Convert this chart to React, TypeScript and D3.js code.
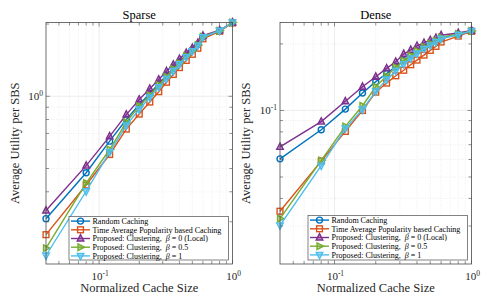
import React from "react";
import * as d3 from "d3";

const cacheSizes = [0.04, 0.08, 0.12, 0.16, 0.2, 0.24, 0.28, 0.32, 0.36, 0.4, 0.45, 0.5, 0.55, 0.6, 0.8, 1.0];

const seriesNames = [
  "Random Caching",
  "Time Average Popularity based Caching",
  "Proposed: Clustering,  β = 0 (Local)",
  "Proposed: Clustering,  β = 0.5",
  "Proposed: Clustering,  β = 1",
];

const sparseRandom = [0.309, 0.48, 0.65, 0.8, 0.925, 1.027, 1.127, 1.22, 1.307, 1.389, 1.479, 1.559, 1.644, 1.772, 1.875, 2.03];
const sparseTimeAvg = [0.265, 0.427, 0.572, 0.73, 0.843, 0.946, 1.045, 1.144, 1.233, 1.317, 1.411, 1.496, 1.586, 1.736, 1.866, 2.02];
const sparseBeta0 = [0.334, 0.514, 0.681, 0.839, 0.969, 1.074, 1.174, 1.271, 1.355, 1.432, 1.517, 1.591, 1.669, 1.79, 1.884, 2.03];
const sparseBeta05 = [0.233, 0.435, 0.6, 0.78, 0.91, 1.01, 1.115, 1.207, 1.3, 1.375, 1.472, 1.543, 1.636, 1.772, 1.875, 2.03];
const sparseBeta1 = [0.217, 0.402, 0.585, 0.756, 0.883, 0.988, 1.092, 1.182, 1.274, 1.36, 1.456, 1.543, 1.627, 1.763, 1.875, 2.03];

const denseRandom = [0.0604, 0.0818, 0.1014, 0.12, 0.135, 0.147, 0.158, 0.168, 0.177, 0.186, 0.193, 0.2, 0.206, 0.213, 0.221, 0.229];
const denseTimeAvg = [0.035, 0.059, 0.0804, 0.1, 0.121, 0.133, 0.1435, 0.152, 0.161, 0.169, 0.178, 0.187, 0.195, 0.204, 0.217, 0.228];
const denseBeta0 = [0.0684, 0.089, 0.11, 0.128, 0.142, 0.155, 0.166, 0.18, 0.188, 0.196, 0.202, 0.208, 0.213, 0.219, 0.224, 0.23];
const denseBeta05 = [0.0324, 0.0594, 0.0847, 0.105, 0.128, 0.143, 0.157, 0.168, 0.177, 0.186, 0.194, 0.201, 0.207, 0.214, 0.222, 0.229];
const denseBeta1 = [0.0302, 0.0563, 0.083, 0.101, 0.122, 0.138, 0.151, 0.162, 0.172, 0.181, 0.19, 0.197, 0.204, 0.211, 0.22, 0.229];

const colors = ["#0072BD", "#D95319", "#7E2F8E", "#77AC30", "#4DBEEE"];
const markers = ["circle", "square", "up", "right", "down"];

const FONT = "Liberation Serif";

function Marker({ type, x, y, color }: { type: string; x: number; y: number; color: string }) {
  const s = 3.3;
  const common = { fill: "none", stroke: color, strokeWidth: 1.4 };
  if (type === "circle") return <circle cx={x} cy={y} r={3} {...common} />;
  if (type === "square") return <rect x={x - 2.9} y={y - 2.9} width={5.8} height={5.8} {...common} />;
  let pts: [number, number][] = [];
  if (type === "up") pts = [[x, y - s - 0.6], [x - s, y + s * 0.75], [x + s, y + s * 0.75]];
  if (type === "down") pts = [[x, y + s + 0.6], [x - s, y - s * 0.75], [x + s, y - s * 0.75]];
  if (type === "right") pts = [[x + s + 0.6, y], [x - s * 0.75, y - s], [x - s * 0.75, y + s]];
  return <polygon points={pts.map((p) => p.join(",")).join(" ")} {...common} fill={color} fillOpacity={0.45} />;
}

function Label10({ x, y, exp, anchor }: { x: number; y: number; exp: string; anchor: string }) {
  return (
    <text x={x} y={y} textAnchor={anchor} style={{ fontFamily: FONT, fontSize: 11 }} fill="#262626">
      10
      <tspan style={{ fontSize: 7.5 }} dy={-4.5}>{exp}</tspan>
    </text>
  );
}

function Panel({
  title, left, right, top, bottom, yDomain, series, yMajor, yMinor, legendBox, yLabelOffset,
}: {
  title: string; left: number; right: number; top: number; bottom: number;
  yDomain: [number, number]; series: number[][]; yMajor: number[]; yMinor: number[];
  legendBox: { x: number; y: number; w: number; h: number }; yLabelOffset: number;
}) {
  const x = d3.scaleLog().domain([0.04, 1]).range([left, right]);
  const y = d3.scaleLog().domain(yDomain).range([bottom, top]);
  const xMajor = [0.1, 1];
  const xMinor = [0.05, 0.06, 0.07, 0.08, 0.09, 0.2, 0.3, 0.4, 0.5, 0.6, 0.7, 0.8, 0.9];
  const line = d3.line<number>().x((_, i) => x(cacheSizes[i])).y((d) => y(d));
  const tick = 3;
  const axisColor = "#4d4d4d";
  const cx = (left + right) / 2;
  const cy = (top + bottom) / 2;
  return (
    <g>
      {xMinor.map((v) => (
        <line key={"xm" + v} x1={x(v)} x2={x(v)} y1={top} y2={bottom} stroke="#e2e2e2" strokeWidth={0.6} strokeDasharray="1,1.5" />
      ))}
      {yMinor.map((v) => (
        <line key={"ym" + v} x1={left} x2={right} y1={y(v)} y2={y(v)} stroke="#e2e2e2" strokeWidth={0.6} strokeDasharray="1,1.5" />
      ))}
      {xMajor.map((v) => (
        <line key={"xM" + v} x1={x(v)} x2={x(v)} y1={top} y2={bottom} stroke="#e0e0e0" strokeWidth={0.6} />
      ))}
      {yMajor.map((v) => (
        <line key={"yM" + v} x1={left} x2={right} y1={y(v)} y2={y(v)} stroke="#e0e0e0" strokeWidth={0.6} />
      ))}
      {series.map((vals, si) => (
        <g key={"s" + si}>
          <path d={line(vals) || ""} fill="none" stroke={colors[si]} strokeWidth={1.4} />
          {vals.map((v, i) => (
            <Marker key={i} type={markers[si]} x={x(cacheSizes[i])} y={y(v)} color={colors[si]} />
          ))}
        </g>
      ))}
      <rect x={left} y={top} width={right - left} height={bottom - top} fill="none" stroke={axisColor} strokeWidth={0.8} />
      {[...xMajor, ...xMinor].map((v) => {
        const len = xMajor.includes(v) ? tick + 1 : tick;
        return (
          <g key={"xt" + v}>
            <line x1={x(v)} x2={x(v)} y1={bottom} y2={bottom - len} stroke={axisColor} strokeWidth={0.6} />
            <line x1={x(v)} x2={x(v)} y1={top} y2={top + len} stroke={axisColor} strokeWidth={0.6} />
          </g>
        );
      })}
      {[...yMajor, ...yMinor].map((v) => {
        const len = yMajor.includes(v) ? tick + 1 : tick;
        return (
          <g key={"yt" + v}>
            <line x1={left} x2={left + len} y1={y(v)} y2={y(v)} stroke={axisColor} strokeWidth={0.6} />
            <line x1={right} x2={right - len} y1={y(v)} y2={y(v)} stroke={axisColor} strokeWidth={0.6} />
          </g>
        );
      })}
      <Label10 x={x(0.1) + 1} y={bottom + 16} exp="-1" anchor="middle" />
      <Label10 x={x(1) + 1} y={bottom + 16} exp="0" anchor="middle" />
      {yMajor.map((v) => (
        <Label10 key={"yl" + v} x={left - 3} y={y(v) + 4} exp={v >= 1 ? "0" : "-1"} anchor="end" />
      ))}
      <text x={cx} y={top - 4} textAnchor="middle" style={{ fontFamily: FONT, fontSize: 12.5 }} fill="#000">{title}</text>
      <text x={cx} y={bottom + 28} textAnchor="middle" style={{ fontFamily: FONT, fontSize: 12.5 }} fill="#262626">Normalized Cache Size</text>
      <text transform={`translate(${left - yLabelOffset},${cy}) rotate(-90)`} textAnchor="middle" style={{ fontFamily: FONT, fontSize: 12.5 }} fill="#262626">Average Utility per SBS</text>
      <rect x={legendBox.x} y={legendBox.y} width={legendBox.w} height={legendBox.h} fill="#fff" stroke={axisColor} strokeWidth={0.7} />
      {seriesNames.map((name, i) => {
        const ry = legendBox.y + 4.6 + i * 8.7;
        const lx = legendBox.x + 2;
        const parts = name.split("β");
        return (
          <g key={"lg" + i}>
            <line x1={lx} x2={lx + 19} y1={ry} y2={ry} stroke={colors[i]} strokeWidth={1.4} />
            <Marker type={markers[i]} x={lx + 9.5} y={ry} color={colors[i]} />
            <text x={lx + 21.5} y={ry + 2.8} style={{ fontFamily: FONT, fontSize: 8, whiteSpace: "pre" }} fill="#000">
              {parts[0]}
              {parts.length > 1 && <tspan style={{ fontStyle: "italic" }}>β</tspan>}
              {parts.length > 1 && parts[1]}
            </text>
          </g>
        );
      })}
    </g>
  );
}

export default function App() {
  return (
    <svg width={491} height={297} style={{ position: "absolute", left: 0, top: 0, background: "#fff" }}>
      <Panel
        title="Sparse"
        left={46}
        right={232.5}
        top={22.5}
        bottom={264}
        yDomain={[0.2, 2.03]}
        series={[sparseRandom, sparseTimeAvg, sparseBeta0, sparseBeta05, sparseBeta1]}
        yMajor={[1]}
        yMinor={[0.3, 0.4, 0.5, 0.6, 0.7, 0.8, 0.9, 2]}
        legendBox={{ x: 69, y: 216.5, w: 159.5, h: 43.5 }}
        yLabelOffset={27}
      />
      <Panel
        title="Dense"
        left={280}
        right={471.5}
        top={22.5}
        bottom={264}
        yDomain={[0.0202, 0.25]}
        series={[denseRandom, denseTimeAvg, denseBeta0, denseBeta05, denseBeta1]}
        yMajor={[0.1]}
        yMinor={[0.03, 0.04, 0.05, 0.06, 0.07, 0.08, 0.09, 0.2]}
        legendBox={{ x: 308, y: 215.5, w: 159.5, h: 44.5 }}
        yLabelOffset={30}
      />
    </svg>
  );
}
